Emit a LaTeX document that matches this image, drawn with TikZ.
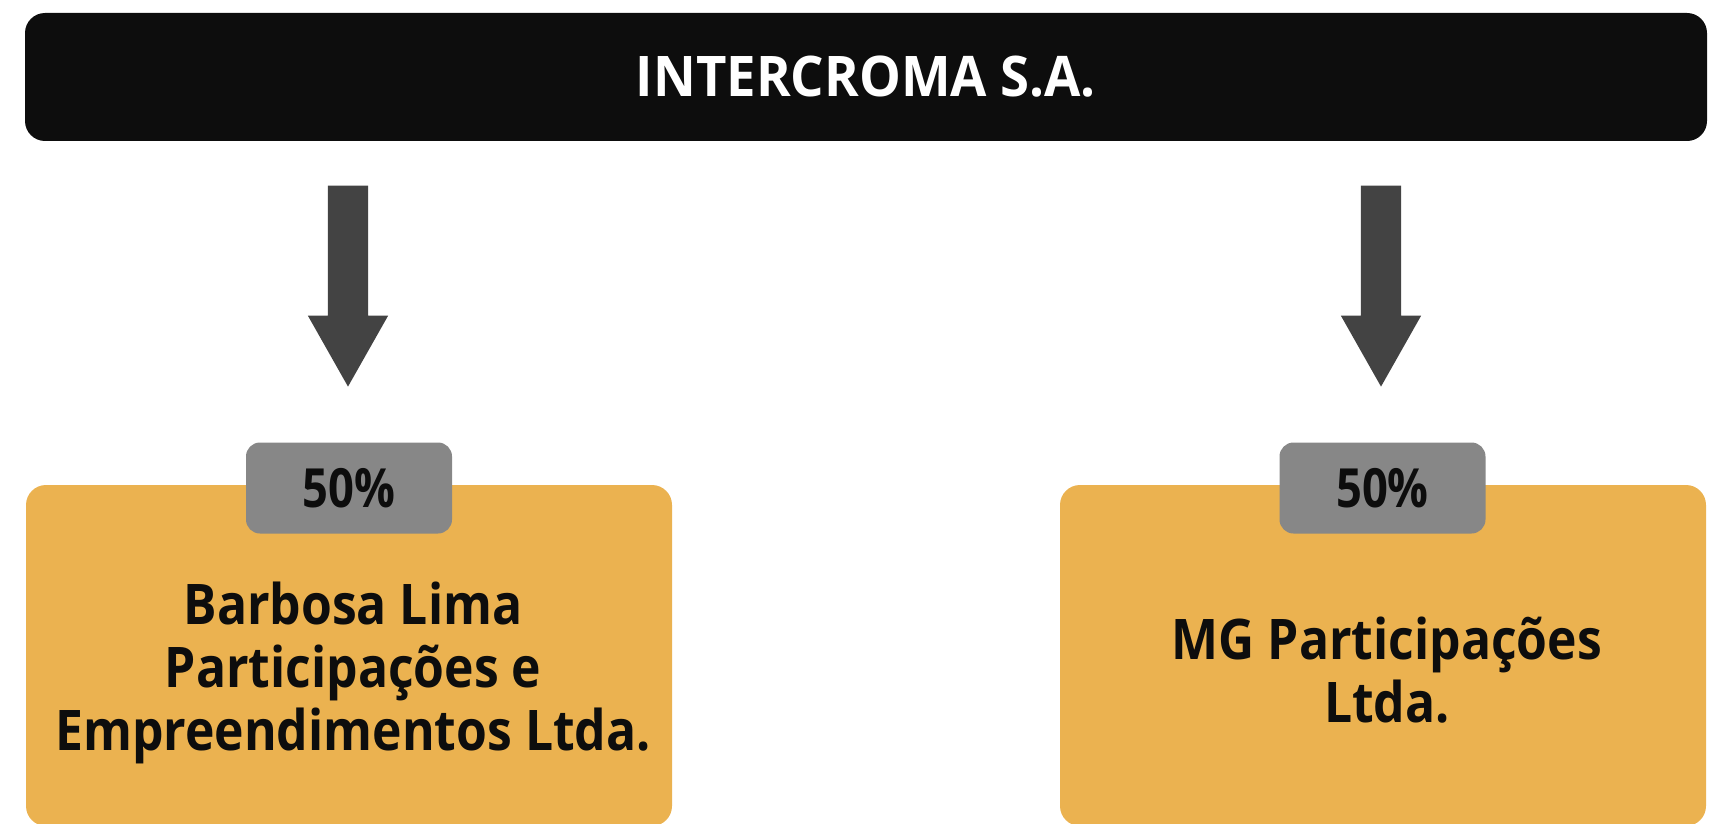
\documentclass[tikz,border=0pt]{standalone}
\usepackage{fontspec}
\setmainfont{Open Sans}[FakeStretch=0.89]
\newfontfamily\titlefont{Open Sans}[FakeStretch=0.94]
\newfontfamily\sharefont{Open Sans}[FakeStretch=0.84]
\usetikzlibrary{shapes.arrows}
\definecolor{barblack}{HTML}{0D0D0D}
\definecolor{arrowgray}{HTML}{434343}
\definecolor{sharegray}{HTML}{878787}
\definecolor{boxorange}{HTML}{EBB250}

\begin{document}
\begin{tikzpicture}[
        x=1pt, y=-1pt,
        every node/.style={inner sep=0pt, font=\bfseries\fontsize{56}{63}\selectfont},
        topbar/.style={rectangle, rounded corners=20pt, fill=barblack, text=white, minimum width=1682pt, minimum height=128pt,
            font=\titlefont\bfseries\fontsize{56}{63}\selectfont},
        holding/.style={rectangle, rounded corners=20pt, fill=boxorange, minimum width=646pt, minimum height=341pt},
        share/.style={rectangle, rounded corners=14pt, fill=sharegray, text=barblack, minimum width=206pt, minimum height=91pt,
            font=\sharefont\bfseries\fontsize{54}{63}\selectfont},
        holdtext/.style={align=center, text=barblack},
        downarrow/.style={single arrow, shape border rotate=270, fill=arrowgray, inner sep=20pt, minimum height=201pt, minimum width=80pt,
            single arrow head extend=20pt, single arrow tip angle=59, single arrow head indent=0pt}
    ]
        \useasboundingbox (0,0) rectangle (1713,824);
        \clip (0,0) rectangle (1713,824);

        \node[topbar] (Intercroma) at (866,77) {INTERCROMA S.A.};

        \node[downarrow, anchor=tip] (ArrowB) at (348,387) {};
        \node[downarrow, anchor=tip] (ArrowM) at (1381,387) {};

        \node[holding] (Barbosa) at (349,655.5) {};
        \node[holding] (MG) at (1383,655.5) {};

        \node[share] (ShareB) at (349,488) {50\%};
        \node[share] (ShareM) at (1382.5,488) {50\%};

        \node[holdtext] (BarbosaName) at (353,673) {Barbosa Lima\\Participações e\\Empreendimentos Ltda.};
        \node[holdtext] (MGName) at (1387,670) {MG Participações\\Ltda.};
    \end{tikzpicture}
\end{document}
